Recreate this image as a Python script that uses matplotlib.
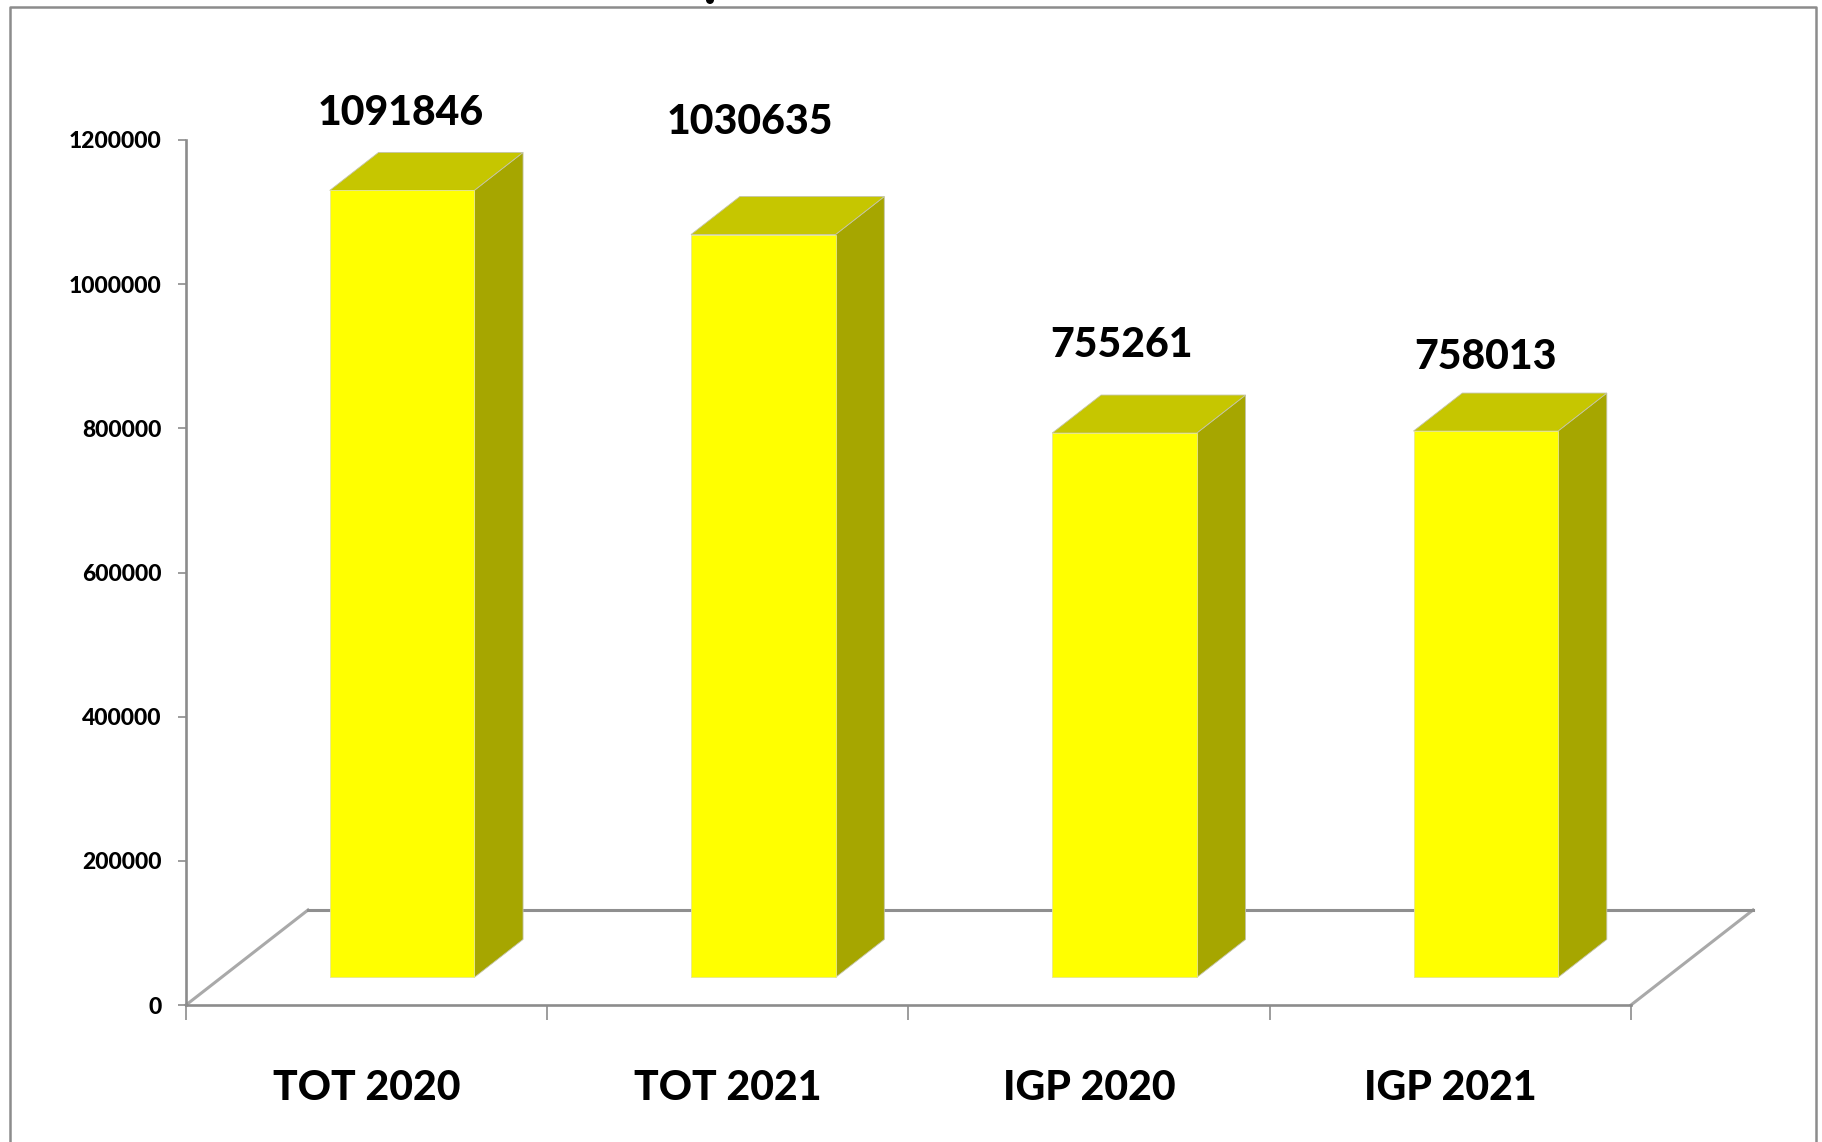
import matplotlib
matplotlib.use("Agg")
import matplotlib.pyplot as plt
from matplotlib.patches import Polygon, Ellipse
from matplotlib.lines import Line2D

categories = ["TOT 2020", "TOT 2021", "IGP 2020", "IGP 2021"]
values = [1091846, 1030635, 755261, 758013]
y_ticks = [0, 200000, 400000, 600000, 800000, 1000000, 1200000]

# per-label placement (pixels relative to the front face top centre)
label_dx = [-1, -13, -3, 0]
label_dy = [77, 113, 88, 74]

W, H = 1822, 1142
DPI = 100
plt.rcParams["font.family"] = ["Lato", "DejaVu Sans"]
fig = plt.figure(figsize=(W / DPI, H / DPI), dpi=DPI, facecolor="white")

# axis box in pixels
x0, x1, y_top, y_bot = 186, 1631, 140, 1005
ax = fig.add_axes([x0 / W, 1 - y_bot / H, (x1 - x0) / W, (y_bot - y_top) / H])
ax.set_xlim(0, len(categories))
ax.set_ylim(0, 1200000)
ax.patch.set_visible(False)

# oblique depth vector, in data units
DX = 122 / ((x1 - x0) / 4)
DY = 95 / (y_bot - y_top) * 1200000
BAR_W = 0.4
D_NEAR, D_FAR = 0.29, 0.69


def proj(x, y, d):
    return (x + d * DX, y + d * DY)


# floor
floor_col = "#a9a9a9"
n = len(categories)
ax.add_line(Line2D(*zip(proj(0, 0, 0), proj(0, 0, 1)), color=floor_col, lw=2.2, clip_on=False, zorder=1))
ax.add_line(Line2D(*zip(proj(n, 0, 0), proj(n, 0, 1)), color=floor_col, lw=2.2, clip_on=False, zorder=1))
ax.add_line(Line2D(*zip(proj(0, 0, 1), proj(n, 0, 1)), color="#8f8f8f", lw=2.2, clip_on=False, zorder=1))

# bars
for i, (cat, v) in enumerate(zip(categories, values)):
    cx = i + 0.5
    l, r = cx - BAR_W / 2, cx + BAR_W / 2
    front = [proj(l, 0, D_NEAR), proj(r, 0, D_NEAR), proj(r, v, D_NEAR), proj(l, v, D_NEAR)]
    side = [proj(r, 0, D_NEAR), proj(r, 0, D_FAR), proj(r, v, D_FAR), proj(r, v, D_NEAR)]
    top = [proj(l, v, D_NEAR), proj(r, v, D_NEAR), proj(r, v, D_FAR), proj(l, v, D_FAR)]
    ax.add_patch(Polygon(side, closed=True, fc="#a6a600", ec="#c4c4a8", lw=0.6, clip_on=False, zorder=3))
    ax.add_patch(Polygon(top, closed=True, fc="#c6c600", ec="#c4c4a8", lw=0.6, clip_on=False, zorder=3))
    ax.add_patch(Polygon(front, closed=True, fc="#ffff00", ec="#e6e690", lw=0.6, clip_on=False, zorder=4))
    tx, ty = proj(cx, v, D_NEAR)
    ax.annotate(str(v), (tx, ty), xytext=(label_dx[i] * 72 / DPI, label_dy[i] * 72 / DPI),
                textcoords="offset points", ha="center", va="center",
                fontsize=29.5, fontweight="black", color="black", annotation_clip=False, zorder=6)

# axes
for s in ("top", "right"):
    ax.spines[s].set_visible(False)
for s in ("left", "bottom"):
    ax.spines[s].set_color("#8c8c8c")
    ax.spines[s].set_linewidth(1.9)
    ax.spines[s].set_zorder(2)

ax.set_yticks(y_ticks)
ax.set_yticklabels([str(t) for t in y_ticks], fontsize=16.5, fontweight="black")
ax.tick_params(axis="y", length=5.5, width=1.2, color="#8c8c8c", pad=12)

ax.set_xticks(range(n + 1))
ax.set_xticklabels([])
ax.tick_params(axis="x", which="major", length=11, width=1.2, color="#8c8c8c")
ax.set_xticks([i + 0.5 for i in range(n)], minor=True)
ax.set_xticklabels(categories, minor=True, fontsize=29.5, fontweight="black")
ax.tick_params(axis="x", which="minor", length=0, pad=46)

# outer frame, running off the bottom of the picture
frame_col = "#8c8c8c"
fx0, fx1, fy0 = 9.5 / W, 1815.5 / W, 1 - 7 / H
fig.add_artist(Line2D([fx0, fx0, fx1, fx1], [0, fy0, fy0, 0], color=frame_col, lw=1.8,
                      transform=fig.transFigure))

# remnant of a cropped title at the top edge
fig.add_artist(Ellipse((710 / W, 1), 8 / W, 8 / H, fc="black", ec="none", transform=fig.transFigure))

fig.savefig("out.png", dpi=DPI, facecolor="white")
